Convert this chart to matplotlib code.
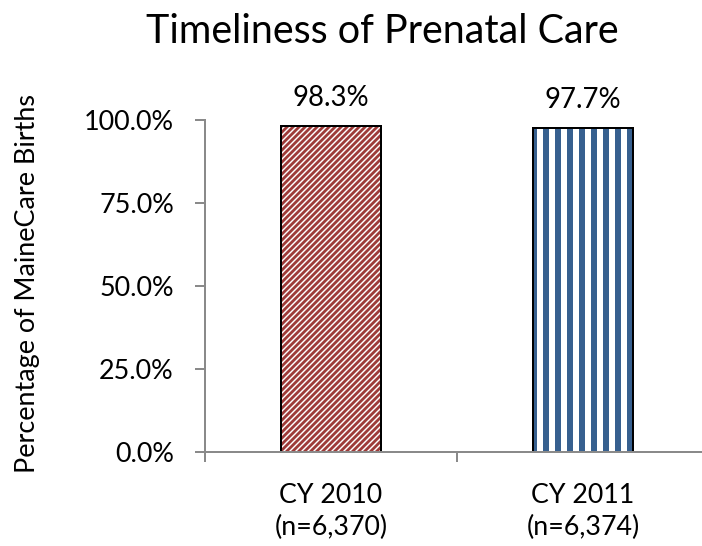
import matplotlib
matplotlib.use('Agg')
from matplotlib import pyplot as plt

years = ['CY 2010', 'CY 2011']
counts = ['(n=6,370)', '(n=6,374)']
values = [98.3, 97.7]
labels = ['98.3%', '97.7%']
stripe_colors = ['#9E3A38', '#37608F']
hatches = ['////', '|']
hatch_widths = [2.8, 6.0]

plt.rcParams['font.family'] = ['Lato', 'DejaVu Sans']

fig = plt.figure(figsize=(702 / 72, 546 / 72), dpi=72)
ax = fig.add_axes([205 / 702, 94 / 546, 504 / 702, 332 / 546])

x = [0.5, 1.5]
for i in range(2):
    # striped fill first, then a plain black outline on top
    with plt.rc_context({'hatch.linewidth': hatch_widths[i]}):
        ax.bar(x[i], values[i], width=0.4, color='white',
               edgecolor=stripe_colors[i], linewidth=0, hatch=hatches[i])
    ax.bar(x[i], values[i], width=0.4, fill=False, edgecolor='black', linewidth=2)
    ax.annotate(labels[i], (x[i], values[i]), xytext=(0, 20), textcoords='offset points',
                ha='center', va='baseline', fontsize=27.5)
    # two-line category label under each bar
    ax.annotate(years[i], (x[i], 0), xycoords=('data', 'axes fraction'),
                xytext=(0, -51), textcoords='offset points',
                ha='center', va='baseline', fontsize=26.8, annotation_clip=False)
    ax.annotate(counts[i], (x[i], 0), xycoords=('data', 'axes fraction'),
                xytext=(0, -83), textcoords='offset points',
                ha='center', va='baseline', fontsize=26.8, annotation_clip=False)

ax.set_xlim(0, 2)
ax.set_ylim(0, 100)
ax.set_yticks([0, 25, 50, 75, 100])
ax.set_yticklabels(['0.0%', '25.0%', '50.0%', '75.0%', '100.0%'], fontsize=27)
ax.set_xticks([0, 1, 2])
ax.set_xticklabels([])
ax.tick_params(axis='both', which='major', length=10, width=2, color='#8A8A8A')
ax.tick_params(axis='y', pad=21)

for side in ['top', 'right']:
    ax.spines[side].set_visible(False)
for side in ['left', 'bottom']:
    ax.spines[side].set_color('#8A8A8A')
    ax.spines[side].set_linewidth(2)

fig.text(28 / 702, 1 - 283.5 / 546, 'Percentage of MaineCare Births', rotation=90,
         ha='center', va='center', fontsize=27)
fig.text(382.5 / 702, 1 - 43 / 546, 'Timeliness of Prenatal Care', ha='center',
         va='baseline', fontsize=39.5)

fig.savefig('out.png', dpi=72)
